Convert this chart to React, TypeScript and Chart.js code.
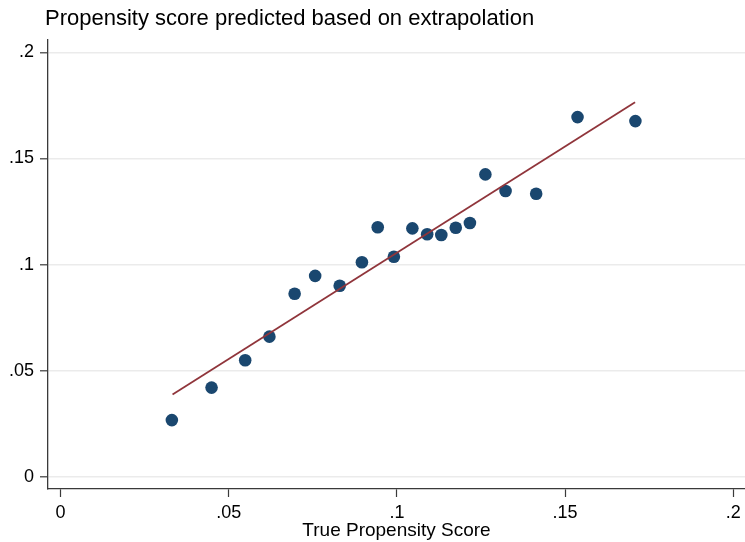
import React, { useEffect, useRef } from "react";
import { Chart, registerables } from "chart.js";

Chart.register(...registerables);

const titleText = "Propensity score predicted based on extrapolation";
const xAxisTitle = "True Propensity Score";

const truePs = [
  0.0331, 0.0449, 0.0549, 0.0621, 0.0696, 0.0757, 0.083, 0.0896, 0.0943, 0.0991,
  0.1046, 0.109, 0.1132, 0.1175, 0.1217, 0.1263, 0.1323, 0.1414, 0.1537, 0.1709,
];
const predictedPs = [
  0.0268, 0.0421, 0.055, 0.0661, 0.0863, 0.0947, 0.0901, 0.1011, 0.1176, 0.1037,
  0.1171, 0.1143, 0.114, 0.1174, 0.1196, 0.1425, 0.1347, 0.1334, 0.1695, 0.1676,
];
const fitX = [0.0333, 0.1708];
const fitY = [0.0389, 0.1765];

const xTicks = [0, 0.05, 0.1, 0.15, 0.2];
const yTicks = [0, 0.05, 0.1, 0.15, 0.2];

const FONT = "'Liberation Sans', Arial, sans-serif";

const fmt = (v: number) => {
  if (Math.abs(v) < 1e-9) return "0";
  const s = String(Math.round(v * 1000) / 1000);
  return s.replace(/^0\./, ".");
};

const titlePlugin = {
  id: "stataTitle",
  afterDraw(chart: any) {
    const ctx = chart.ctx;
    ctx.save();
    ctx.font = `22px ${FONT}`;
    ctx.fillStyle = "#000";
    ctx.textBaseline = "alphabetic";
    ctx.textAlign = "left";
    ctx.fillText(titleText, 45, 25);
    ctx.restore();
  },
};

export default function App() {
  const ref = useRef<HTMLCanvasElement | null>(null);

  useEffect(() => {
    if (!ref.current) return;
    const chart = new Chart(ref.current, {
      type: "scatter",
      data: {
        datasets: [
          {
            type: "line",
            data: fitX.map((x, i) => ({ x, y: fitY[i] })),
            borderColor: "#90353b",
            borderWidth: 1.8,
            pointRadius: 0,
            showLine: true,
            fill: false,
            order: 0,
          } as any,
          {
            type: "scatter",
            data: truePs.map((x, i) => ({ x, y: predictedPs[i] })),
            backgroundColor: "#1a476f",
            borderWidth: 0,
            pointRadius: 6.3,
            order: 1,
          },
        ],
      },
      options: {
        animation: false,
        responsive: false,
        layout: { autoPadding: false, padding: { top: 40, left: 0, right: 0, bottom: 0 } },
        plugins: {
          legend: { display: false },
          tooltip: { enabled: false },
          title: { display: false },
        },
        scales: {
          x: {
            type: "linear",
            min: -0.00372,
            max: 0.20348,
            afterBuildTicks: (s: any) => {
              s.ticks = xTicks.map((v) => ({ value: v }));
            },
            afterFit: (s: any) => {
              s.height = 53;
              s.paddingLeft = 0;
              s.paddingRight = 0;
            },
            ticks: {
              font: { family: FONT, size: 18 },
              color: "#000",
              padding: 5,
              maxRotation: 0,
              autoSkip: false,
              callback: (v: any) => fmt(Number(v)),
            },
            grid: {
              drawOnChartArea: false,
              drawTicks: true,
              tickLength: 8,
              tickColor: "#3a3a3a",
              tickWidth: 1.2,
            },
            border: { display: true, color: "#3a3a3a", width: 1.3 },
            title: {
              display: true,
              text: xAxisTitle,
              font: { family: FONT, size: 19 },
              color: "#000",
              padding: { top: 0, bottom: 0 },
            },
          },
          y: {
            type: "linear",
            min: -0.00565,
            max: 0.2058,
            afterBuildTicks: (s: any) => {
              s.ticks = yTicks.map((v) => ({ value: v }));
            },
            afterFit: (s: any) => {
              s.width = 48;
              s.paddingTop = 0;
              s.paddingBottom = 0;
            },
            ticks: {
              font: { family: FONT, size: 18 },
              color: "#000",
              padding: 6,
              autoSkip: false,
              callback: (v: any) => fmt(Number(v)),
            },
            grid: {
              drawOnChartArea: true,
              color: "#ebebeb",
              lineWidth: 1.6,
              drawTicks: true,
              tickLength: 8,
              tickColor: "#3a3a3a",
              tickWidth: 1.2,
            },
            border: { display: true, color: "#3a3a3a", width: 1.3 },
          },
        },
      },
      plugins: [titlePlugin],
    });
    return () => chart.destroy();
  }, []);

  return (
    <div style={{ position: "absolute", left: 0, top: 0, width: 745, height: 542, background: "#fff" }}>
      <canvas ref={ref} width={745} height={542} style={{ width: 745, height: 542, display: "block" }} />
    </div>
  );
}
